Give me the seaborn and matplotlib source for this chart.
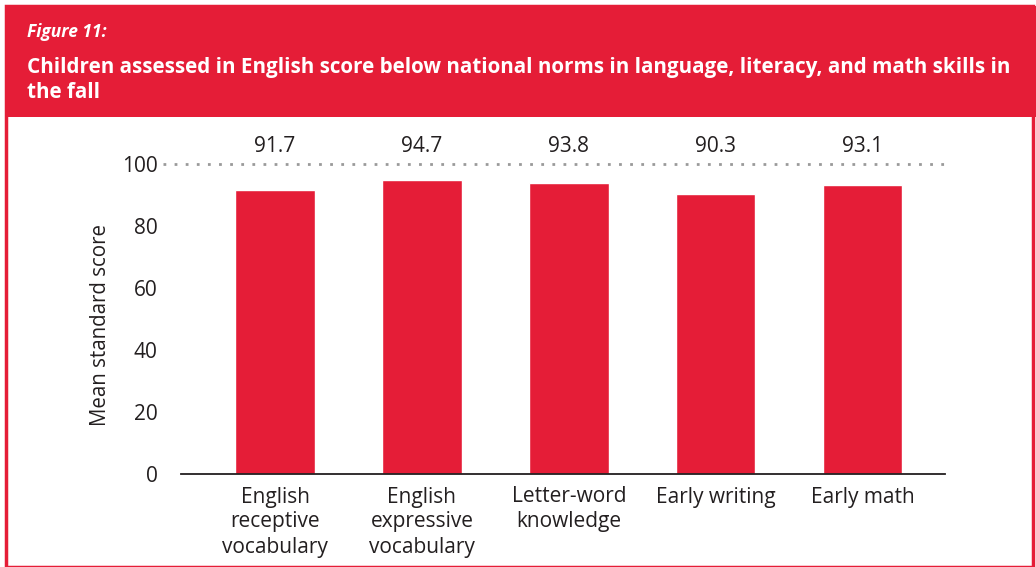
import seaborn as sns
import matplotlib.pyplot as plt
import matplotlib.patches as mpatches
import pandas as pd

# data
categories = ["English\nreceptive\nvocabulary", "English\nexpressive\nvocabulary",
              "Letter-word\nknowledge", "Early writing", "Early math"]
scores = [91.7, 94.7, 93.8, 90.3, 93.1]
national_norm = 100
yticks = [0, 20, 40, 60, 80, 100]

RED = "#E51D37"
TEXT = "#231F20"

sns.set_style("white")
plt.rcParams['font.family'] = ['Open Sans', 'DejaVu Sans']

W, H = 1036, 567
fig = plt.figure(figsize=(W / 100, H / 100), dpi=100)

# header band + box outline
fig.patches.append(mpatches.Rectangle((6 / W, 0), 1027 / W, 1 - 6 / H, transform=fig.transFigure,
                                      facecolor="none", edgecolor=RED, linewidth=2.5, zorder=0))
fig.patches.append(mpatches.Rectangle((6 / W, 1 - 117 / H), 1030 / W, 111 / H, transform=fig.transFigure,
                                      facecolor=RED, edgecolor="none", zorder=1))
fig.text(27 / W, 1 - 32 / H, "Figure 11:", color="white", fontsize=12.5, fontstyle="italic",
         fontweight="bold", va="center", ha="left")
fig.text(27 / W, 1 - 80 / H,
         "Children assessed in English score below national norms in language, literacy, and math skills in\nthe fall",
         color="white", fontsize=14.9, fontweight="bold", va="center", ha="left", linespacing=1.3)

# plot area
ax = fig.add_axes([181 / W, 1 - 474 / H, 764 / W, 344 / H])
df = pd.DataFrame({"skill": categories, "score": scores})
sns.barplot(data=df, x="skill", y="score", color=RED, saturation=1, width=0.54, ax=ax)

ax.set_ylim(0, 344 / 3.1)
ax.set_xlim(-0.64, 4.56)
ax.set_yticks(yticks)
ax.set_xlabel("")
ax.set_ylabel("Mean standard score", fontsize=14.8, color=TEXT)
ax.yaxis.set_label_coords(-0.092, 0.433)

sns.despine(ax=ax, left=True)
ax.spines["bottom"].set_color(TEXT)
ax.spines["bottom"].set_linewidth(1.3)
ax.tick_params(axis="y", length=0, pad=17, labelsize=15, labelcolor=TEXT)
ax.tick_params(axis="x", length=0, pad=9, labelsize=15, labelcolor=TEXT)
for lab in ax.get_xticklabels():
    lab.set_linespacing(1.25)
    lab.set_va("top")

# national norm dotted line
ax.plot([-0.024, 1.0], [national_norm, national_norm], transform=ax.get_yaxis_transform(),
        color="#9A9A9A", linestyle=(0, (1, 3)), linewidth=2, clip_on=False)

# value labels above the norm line
for i, v in enumerate(scores):
    ax.text(i, 105.5, f"{v:.1f}", ha="center", va="center", fontsize=15, color=TEXT)

fig.savefig("out.png", dpi=100)
